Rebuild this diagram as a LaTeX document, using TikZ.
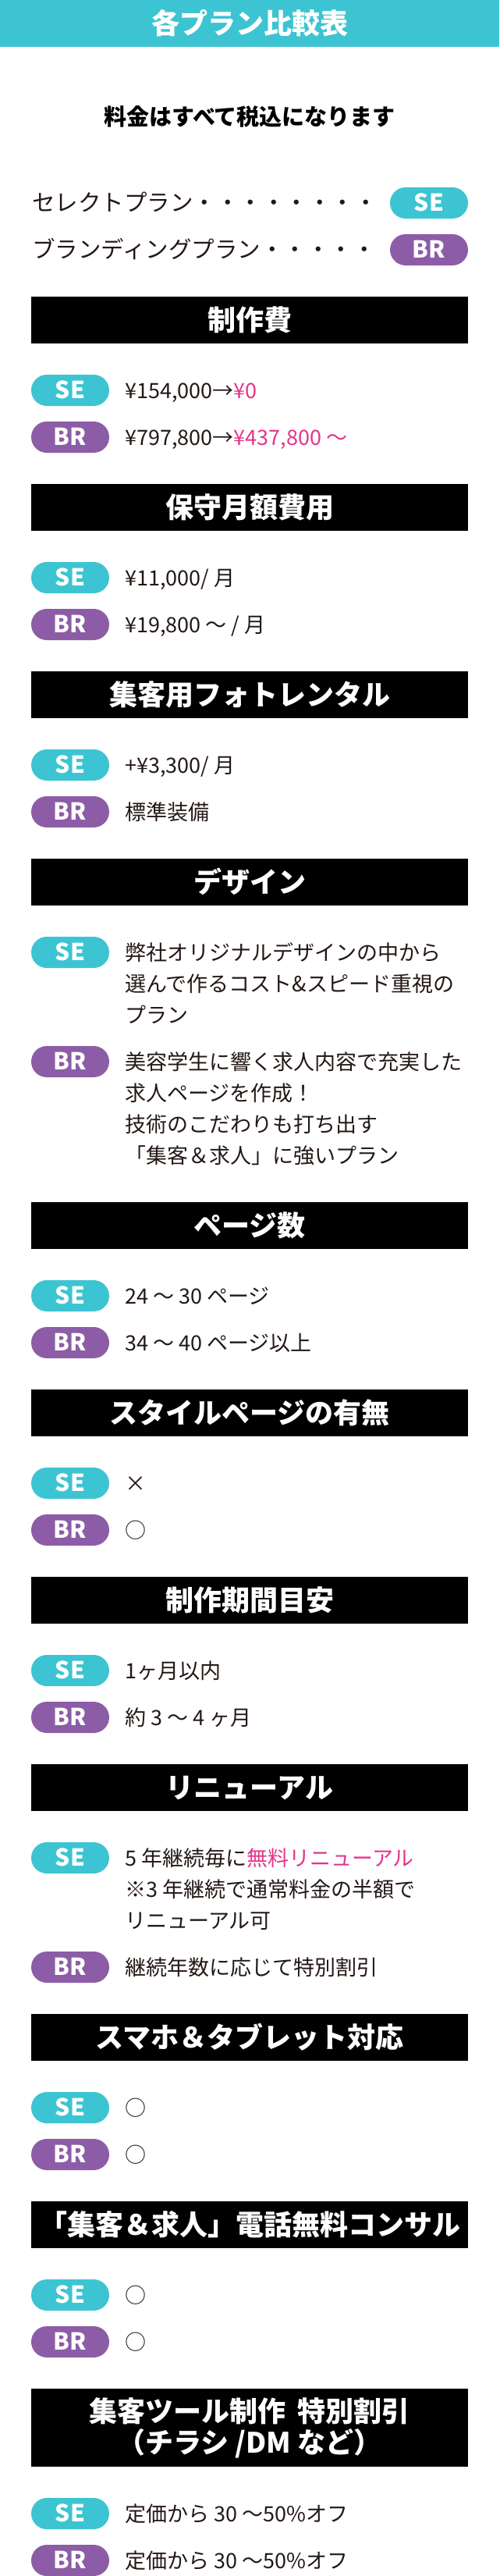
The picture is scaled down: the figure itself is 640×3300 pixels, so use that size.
\documentclass[tikz,border=0pt]{standalone}
\usepackage{fontspec}
\setmainfont{Noto Sans CJK JP}
\usepackage{tikz}
\definecolor{planSE}{HTML}{3DC4D2}
\definecolor{planBR}{HTML}{8C5DA6}
\definecolor{hot}{HTML}{E6348B}
\definecolor{ink}{HTML}{231815}
\def\fs#1{\fontsize{#1}{40}\selectfont}% font size in px, 40px lines

\begin{document}
\begin{tikzpicture}[x=1pt,y=-1pt,
  headbar/.style={fill=black,text=white,minimum width=560,minimum height=60,inner sep=0,
    font=\fs{36}\bfseries,text height=31.7pt,text depth=4.3pt},
  se/.style={fill=planSE,text=white,rounded corners=20,minimum width=100,minimum height=40,
    inner sep=0,font=\fs{30}\bfseries,text height=21.9pt,text depth=0pt},
  br/.style={se,fill=planBR},
  item/.style={anchor=west,inner sep=0,text=ink,font=\fs{27},text height=23.8pt,text depth=3.2pt}]
  \useasboundingbox (0,0) rectangle (640,3300);

  %top: title and legend
  \node[headbar,fill=planSE,minimum width=640] (title) at (320,30) {各プラン比較表};
  \node[item,anchor=center,font=\fs{29}\bfseries,text=black] (note) at (320,150) {料金はすべて税込になります};
  \node[item,font=\fs{29.5}] (selLine) at (41,260) {セレクトプラン・・・・・・・・};
  \node[se] (legSE) at (550,260) {SE};
  \node[item,font=\fs{29.5}] (brLine) at (41,320) {ブランディングプラン・・・・・};
  \node[br] (legBR) at (550,320) {BR};

  %production cost
  \node[headbar] (cost) at (320,410) {制作費};
  \node[se] (costSE) at (90,500) {SE};
  \node[item] (costSEt) at (160,500) {¥154,000→\textcolor{hot}{¥0}};
  \node[br] (costBR) at (90,560) {BR};
  \node[item] (costBRt) at (160,560) {¥797,800→\textcolor{hot}{¥437,800 ～}};

  %maintenance
  \node[headbar] (keep) at (320,650) {保守月額費用};
  \node[se] (keepSE) at (90,740) {SE};
  \node[item] (keepSEt) at (160,740) {¥11,000/ 月};
  \node[br] (keepBR) at (90,800) {BR};
  \node[item] (keepBRt) at (160,800) {¥19,800 ～ / 月};

  %photo rental
  \node[headbar] (photo) at (320,890) {集客用フォトレンタル};
  \node[se] (photoSE) at (90,980) {SE};
  \node[item] (photoSEt) at (160,980) {+¥3,300/ 月};
  \node[br] (photoBR) at (90,1040) {BR};
  \node[item] (photoBRt) at (160,1040) {標準装備};

  %design
  \node[headbar] (design) at (320,1130) {デザイン};
  \node[se] (designSE) at (90,1220) {SE};
  \node[item] (designSEa) at (160,1220) {弊社オリジナルデザインの中から};
  \node[item] (designSEb) at (160,1260) {選んで作るコスト\&スピード重視の};
  \node[item] (designSEc) at (160,1300) {プラン};
  \node[br] (designBR) at (90,1360) {BR};
  \node[item] (designBRa) at (160,1360) {美容学生に響く求人内容で充実した};
  \node[item] (designBRb) at (160,1400) {求人ページを作成！};
  \node[item] (designBRc) at (160,1440) {技術のこだわりも打ち出す};
  \node[item] (designBRd) at (160,1480) {「集客＆求人」に強いプラン};

  %pages
  \node[headbar] (pages) at (320,1570) {ページ数};
  \node[se] (pagesSE) at (90,1660) {SE};
  \node[item] (pagesSEt) at (160,1660) {24 ～ 30 ページ};
  \node[br] (pagesBR) at (90,1720) {BR};
  \node[item] (pagesBRt) at (160,1720) {34 ～ 40 ページ以上};

  %style pages
  \node[headbar] (style) at (320,1810) {スタイルページの有無};
  \node[se] (styleSE) at (90,1900) {SE};
  \node[item] (styleSEt) at (160,1900) {×};
  \node[br] (styleBR) at (90,1960) {BR};
  \node[item] (styleBRt) at (160,1960) {○};

  %period
  \node[headbar] (period) at (320,2050) {制作期間目安};
  \node[se] (periodSE) at (90,2140) {SE};
  \node[item] (periodSEt) at (160,2140) {1ヶ月以内};
  \node[br] (periodBR) at (90,2200) {BR};
  \node[item] (periodBRt) at (160,2200) {約 3 ～ 4 ヶ月};

  %renewal
  \node[headbar] (renew) at (320,2290) {リニューアル};
  \node[se] (renewSE) at (90,2380) {SE};
  \node[item] (renewSEa) at (160,2380) {5 年継続毎に\textcolor{hot}{無料リニューアル}};
  \node[item] (renewSEb) at (160,2420) {※3 年継続で通常料金の半額で};
  \node[item] (renewSEc) at (160,2460) {リニューアル可};
  \node[br] (renewBR) at (90,2520) {BR};
  \node[item] (renewBRt) at (160,2520) {継続年数に応じて特別割引};

  %mobile
  \node[headbar] (mobile) at (320,2610) {スマホ＆タブレット対応};
  \node[se] (mobileSE) at (90,2700) {SE};
  \node[item] (mobileSEt) at (160,2700) {○};
  \node[br] (mobileBR) at (90,2760) {BR};
  \node[item] (mobileBRt) at (160,2760) {○};

  %phone consulting
  \node[headbar] (consult) at (320,2850) {「集客＆求人」電話無料コンサル};
  \node[se] (consultSE) at (90,2940) {SE};
  \node[item] (consultSEt) at (160,2940) {○};
  \node[br] (consultBR) at (90,3000) {BR};
  \node[item] (consultBRt) at (160,3000) {○};

  %tools
  \node[headbar,minimum height=100,align=center,text height={},text depth={}] (tools) at (320,3110)
    {集客ツール制作\hspace{0.4em}特別割引\\（チラシ /DM など）};
  \node[se] (toolsSE) at (90,3220) {SE};
  \node[item] (toolsSEt) at (160,3220) {定価から 30 ～50\%オフ};
  \node[br] (toolsBR) at (90,3280) {BR};
  \node[item] (toolsBRt) at (160,3280) {定価から 30 ～50\%オフ};
\end{tikzpicture}
\end{document}
